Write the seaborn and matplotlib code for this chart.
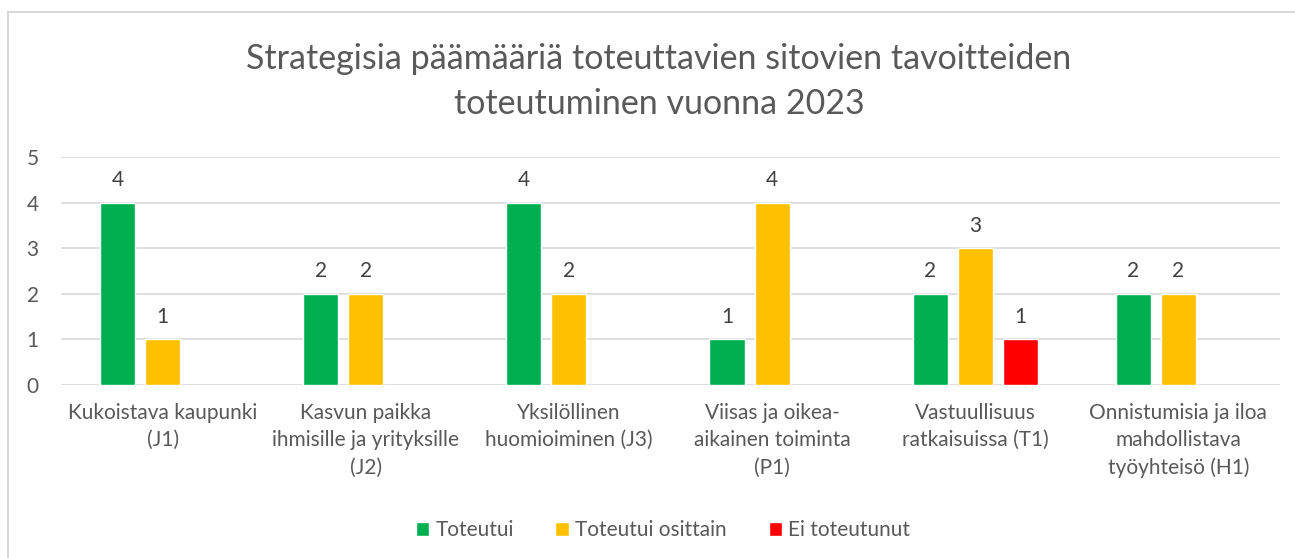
import numpy as np
import pandas as pd
import seaborn as sns
import matplotlib.pyplot as plt
from matplotlib.patches import Rectangle

# Data
categories = [
    "Kukoistava kaupunki\n(J1)",
    "Kasvun paikka\nihmisille ja yrityksille\n(J2)",
    "Yksilöllinen\nhuomioiminen (J3)",
    "Viisas ja oikea-\naikainen toiminta\n(P1)",
    "Vastuullisuus\nratkaisuissa (T1)",
    "Onnistumisia ja iloa\nmahdollistava\ntyöyhteisö (H1)",
]
statuses = ["Toteutui", "Toteutui osittain", "Ei toteutunut"]
toteutui = [4, 2, 4, 1, 2, 2]
osittain = [1, 2, 2, 4, 3, 2]
ei_toteutunut = [None, None, None, None, 1, None]
colors = ["#00B050", "#FFC000", "#FF0000"]
y_ticks = [0, 1, 2, 3, 4, 5]

title = "Strategisia päämääriä toteuttavien sitovien tavoitteiden\ntoteutuminen vuonna 2023"

text_color = "#595959"
grid_color = "#D9D9D9"

sns.set_theme(style="white")
plt.rcParams["font.family"] = ["Lato", "DejaVu Sans"]

df = pd.DataFrame({
    "Kategoria": categories * 3,
    "Tila": [s for s in statuses for _ in categories],
    "Arvo": toteutui + osittain + ei_toteutunut,
}).dropna()

fig = plt.figure(figsize=(12.95, 5.58), dpi=100)
ax = fig.add_axes([61 / 1295, 1 - 385 / 558, (1280 - 61) / 1295, (385 - 157) / 558])

sns.barplot(data=df, x="Kategoria", y="Arvo", hue="Tila", order=categories,
            hue_order=statuses, palette=colors, width=0.665, gap=0.22,
            errorbar=None, saturation=1, ax=ax)

# value labels above bars
for cont in ax.containers:
    labels = [f"{v:.0f}" if not np.isnan(v) else "" for v in cont.datavalues]
    ax.bar_label(cont, labels=labels, padding=9, fontsize=15, color="#404040")

ax.set_ylim(0, 5)
ax.set_yticks(y_ticks)
ax.yaxis.grid(True, color=grid_color, linewidth=1.2)
ax.set_axisbelow(True)
for s in ax.spines.values():
    s.set_visible(False)
ax.set_xlabel("")
ax.set_ylabel("")
ax.tick_params(axis="both", length=0, labelsize=15, labelcolor=text_color)
ax.tick_params(axis="x", pad=13)
for lbl in ax.get_xticklabels():
    lbl.set_linespacing(1.45)
ax.tick_params(axis="y", pad=16)

# legend at the bottom
handles, labels = ax.get_legend_handles_labels()
ax.legend_.remove()
fig.legend(handles, labels, loc="center", bbox_to_anchor=(663 / 1295, 1 - 530 / 558),
           ncol=3, frameon=False, fontsize=15, labelcolor=text_color,
           handlelength=0.65, handleheight=0.65, handletextpad=0.3, columnspacing=2.0)

fig.text(659 / 1295, 1 - 82 / 558, title, ha="center", va="center",
         fontsize=24.5, color=text_color, linespacing=1.5)

# outer chart frame
fig.patches.append(Rectangle((8 / 1295, -0.02), 1.1, 1 - 12 / 558 + 0.02,
                             transform=fig.transFigure, fill=False,
                             edgecolor=grid_color, linewidth=1.5))

fig.savefig("out.png", dpi=100)
